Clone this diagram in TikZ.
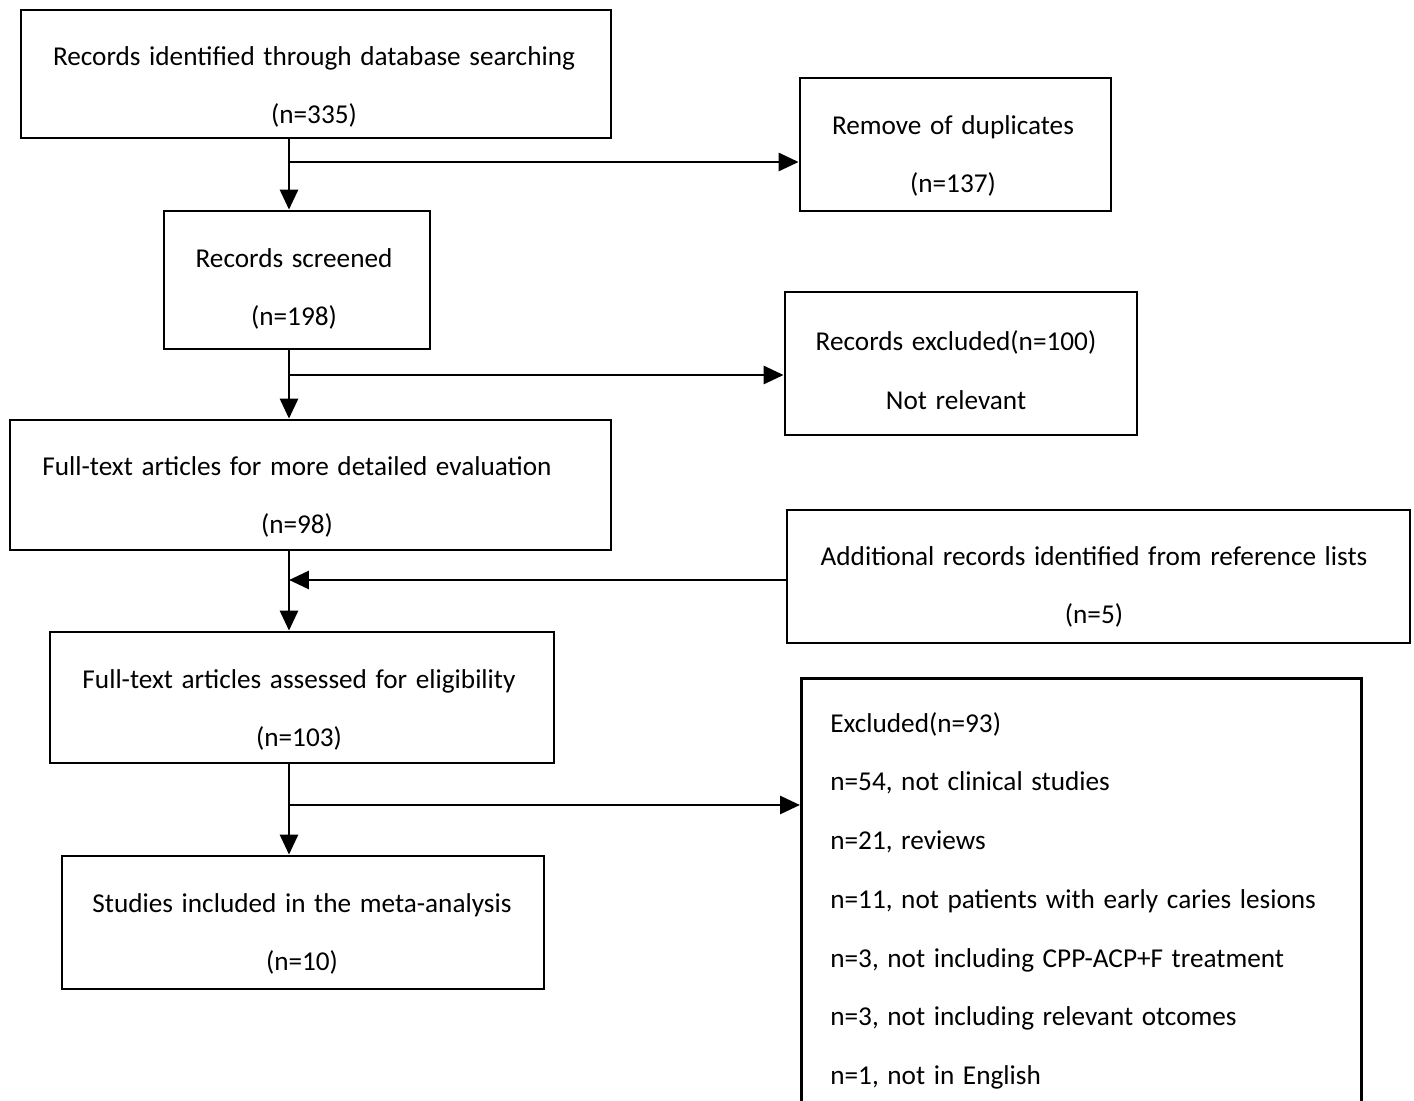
\documentclass[tikz,border=0pt]{standalone}
\usepackage{fontspec}
\setmainfont[WordSpace=1.4]{Carlito}
\usetikzlibrary{arrows.meta}

\tikzset{
  box/.style={draw=black, line width=1.6pt, rectangle, inner sep=0pt},
  txt/.style={align=center, inner sep=0pt, font=\fontsize{15.5}{33.4}\selectfont},
  arr/.style={line width=1.6pt, -{Triangle[length=0.4cm, width=0.36cm]}}
}

\begin{document}
\begin{tikzpicture}[x=0.02cm, y=-0.02cm]
\clip (0,0) rectangle (1414,1101);
\fill[white] (0,0) rectangle (1414,1101);
\node[box, minimum width=11.8cm, minimum height=2.56cm] (ident) at (316,74) {};
\node[txt] (identtxt) at (314,87) {Records identified through database searching\\(n=335)};
\node[box, minimum width=6.22cm, minimum height=2.66cm] (dup) at (955.5,144.5) {};
\node[txt] (duptxt) at (953,156) {Remove of duplicates\\(n=137)};
\node[box, minimum width=5.32cm, minimum height=2.76cm] (screened) at (297,280) {};
\node[txt] (screenedtxt) at (294,289) {Records screened\\(n=198)};
\node[box, minimum width=7.04cm, minimum height=2.86cm] (excla) at (961,363.5) {};
\node[txt] (exclatxt) at (956,370) {Records excluded(n=100)\\Not relevant};
\node[box, minimum width=12.02cm, minimum height=2.6cm] (fulltext) at (310.5,485) {};
\node[txt] (fulltexttxt) at (297,497) {Full-text articles for more detailed evaluation\\(n=98)};
\node[box, minimum width=12.46cm, minimum height=2.66cm] (addit) at (1098.5,576.5) {};
\node[txt] (addittxt) at (1094,587) {Additional records identified from reference lists\\(n=5)};
\node[box, minimum width=10.08cm, minimum height=2.62cm] (assessed) at (302,697.5) {};
\node[txt] (assessedtxt) at (299,710) {Full-text articles assessed for eligibility\\(n=103)};
\node[box, minimum width=9.64cm, minimum height=2.66cm] (included) at (303,922.5) {};
\node[txt] (includedtxt) at (302,934) {Studies included in the meta-analysis\\(n=10)};
\node[box, anchor=north west, minimum width=11.2cm, minimum height=9.6cm] (exclb) at (800,677) {};
\node[txt, align=left, anchor=north west] (exclbtxt) at (830,712) {Excluded(n=93)\\n=54, not clinical studies\\n=21, reviews\\n=11, not patients with early caries lesions\\n=3, not including CPP-ACP+F treatment\\n=3, not including relevant otcomes\\n=1, not in English};
\coordinate (trunk) at (289,0);
\coordinate (ba) at (289,162);
\coordinate (bb) at (289,375);
\coordinate (bc) at (289,580);
\coordinate (bd) at (289,805);
\draw[arr] (trunk |- ident.south) -- (trunk |- screened.north);
\draw[arr] (ba) -- (ba -| dup.west);
\draw[arr] (trunk |- screened.south) -- (trunk |- fulltext.north);
\draw[arr] (bb) -- (bb -| excla.west);
\draw[arr] (trunk |- fulltext.south) -- (trunk |- assessed.north);
\draw[arr] (bc -| addit.west) -- (bc);
\draw[arr] (trunk |- assessed.south) -- (trunk |- included.north);
\draw[arr] (bd) -- (bd -| exclb.west);
\end{tikzpicture}
\end{document}
